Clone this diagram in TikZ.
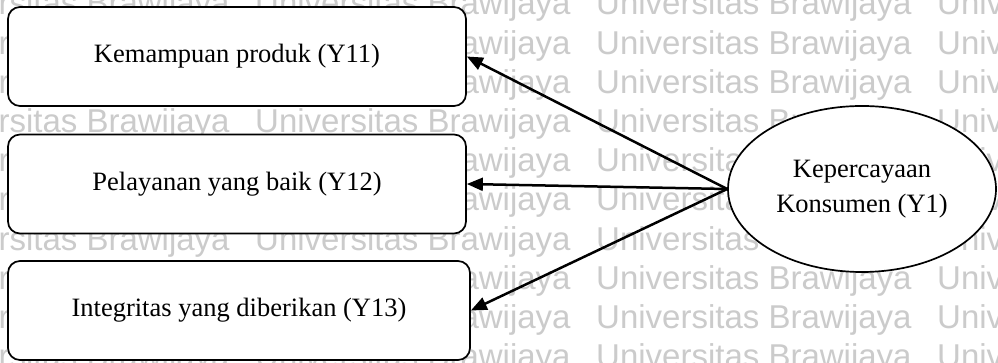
\documentclass[tikz,border=0pt]{standalone}
\usepackage{fontspec}
\setmainfont{Liberation Serif}
\newfontfamily\wmfont{Liberation Sans}
\usetikzlibrary{shapes.geometric,arrows.meta}
\definecolor{wmgray}{RGB}{203,203,203}

\tikzset{
  itembox/.style={draw=black, line width=1.7pt, fill=white, rounded corners=12pt,
    minimum height=99pt, inner sep=0pt, font=\fontsize{26.5}{33}\selectfont},
  latent/.style={draw=black, line width=1.7pt, fill=white, ellipse,
    minimum width=268pt, minimum height=166pt, inner sep=0pt, align=center,
    font=\fontsize{26.5}{35}\selectfont},
  loading/.style={line width=2.5pt, -{Triangle[length=16pt,width=13pt]}},
  wmtext/.style={anchor=base west, inner sep=0pt, text=wmgray,
    font=\wmfont\fontsize{33}{33}\selectfont}
}

\begin{document}
\begin{tikzpicture}[x=1pt,y=1pt]
\useasboundingbox (0,0) rectangle (998,363);
\fill[white] (0,0) rectangle (998,363);

% background watermark rows
\begin{scope}
  \clip (0,0) rectangle (998,363);
  \foreach \k in {0,...,9}{
    \foreach \m in {-2,...,1}{
      \node[wmtext] at ({596+341*\m}, {348-39.2*\k}) {Universitas Brawijaya};
    }
  }
\end{scope}

% indicator boxes
\node[itembox, minimum width=458pt] (b1) at (237,306.5) {Kemampuan produk (Y11)};
\node[itembox, minimum width=458pt] (b2) at (237,179) {Pelayanan yang baik (Y12)};
\node[itembox, minimum width=462pt] (b3) at (239,52.5) {Integritas yang diberikan (Y13)};

% latent construct
\node[latent, text depth=6pt] (y1) at (862,174) {Kepercayaan\\Konsumen (Y1)};

% loadings
\draw[loading] (y1.west) -- (b1.east);
\draw[loading] (y1.west) -- (b2.east);
\draw[loading] (y1.west) -- (b3.east);
\end{tikzpicture}
\end{document}
